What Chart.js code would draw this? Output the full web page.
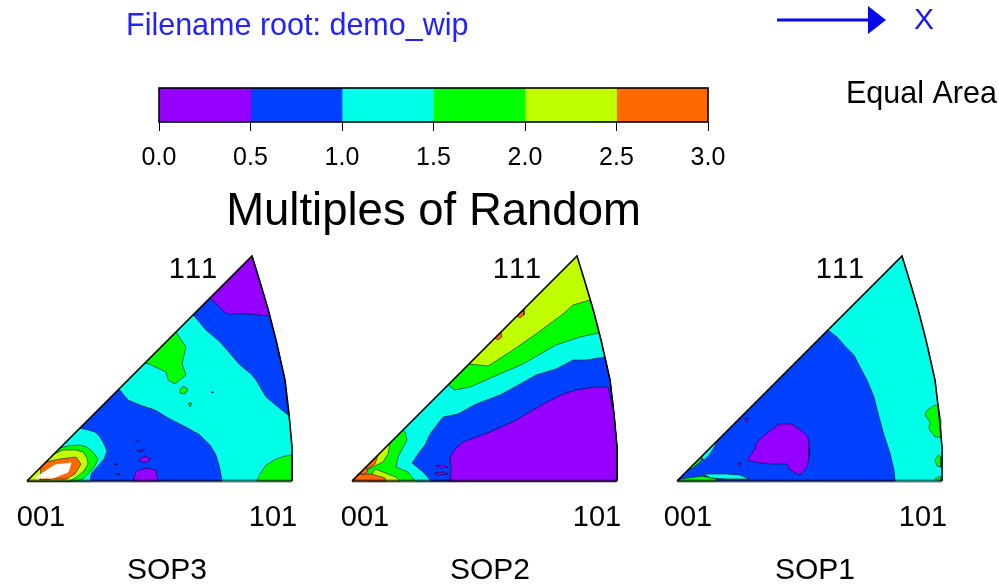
<!DOCTYPE html>
<html>
<head>
<meta charset="utf-8">
<title>Multiples of Random</title>
<script src="https://cdn.jsdelivr.net/npm/chart.js@4"></script>
<style>
html, body { margin: 0; padding: 0; background: #fff; overflow: hidden; }
body { width: 999px; height: 587px; position: relative; font-family: "Liberation Sans", sans-serif; font-kerning: none; }
canvas { position: absolute; filter: blur(0.6px); }
.note { position: absolute; white-space: nowrap; line-height: 1; filter: blur(0.5px); }
</style>
</head>
<body>
<div class="note" style="left:126px;top:9px;font-size:30.5px;color:#2222ff">Filename root: demo_wip</div>
<div class="note" style="left:914px;top:4px;font-size:30px;color:#1515ff">X</div>
<div class="note" style="left:846px;top:77px;font-size:30.5px;color:#000">Equal Area</div>
<svg style="position:absolute;left:770px;top:0" width="125" height="40">
  <line x1="7" y1="20" x2="100" y2="20" stroke="#0808e8" stroke-width="3"/>
  <polygon points="98,6 116,20 98,34" fill="#0808e8"/>
</svg>
<canvas id="scaleBar" width="999" height="240" style="left:0;top:0"></canvas>
<canvas id="sop3" width="310" height="334" style="left:12px;top:253px"></canvas>
<canvas id="sop2" width="310" height="334" style="left:335px;top:253px"></canvas>
<canvas id="sop1" width="310" height="334" style="left:660px;top:253px"></canvas>
<script>
// colour key
var binValues = [0.5, 0.5, 0.5, 0.5, 0.5, 0.5];
var binColors = ['#9600ff', '#0040ff', '#00ffe8', '#00ff00', '#bfff00', '#ff6a00'];
var white = 6;

// standard triangle, [u, v], 001 at 0,0
var hypotTop = [225, 225];
var arcEdge = [[233, 199], [241, 172], [249, 141], [258, 101], [262, 67], [265, 34], [265, 0]];

// SOP3
var sop3Levels = [2, 1, 0, 1, 3, 3, 3, 1, 0, 0, 0, 0, 0, 0, 3, 2, 3, 4, 5, white];
var sop3Contours = [
    [[0, 0], hypotTop].concat(arcEdge),
    [[166, 166], hypotTop, [233, 199], [241, 172], [249, 141], [258, 101], [261, 66], [251, 74], [239, 84], [229, 101], [224, 107], [213, 116], [206, 124], [193, 139], [179, 151], [168, 164]],
    [[183, 183], [200, 167], [221, 167], [243, 165], [233, 199], hypotTop],
    [[92, 92], [101, 81], [113, 76], [128, 71], [143, 62], [159, 54], [173, 46], [183, 36], [189, 26], [193, 12], [195, 0], [0, 0]],
    [[230, 0], [233, 7], [239, 16], [249, 22], [258, 25], [265, 26], [265, 0]],
    [[149, 149], [159, 134], [155, 117], [159, 106], [148, 97], [141, 101], [139, 109], [122, 117], [118, 118]],
    [[153, 91], [156, 95], [161, 92], [158, 87], [153, 88]],
    [[184, 89], [187, 89], [185, 88]],
    [[106, 0], [109, 10], [119, 13], [129, 11], [131, 0]],
    [[111, 21], [118, 25], [124, 22], [118, 18]],
    [[110, 30], [118, 32], [114, 29]],
    [[87, 17], [91, 17], [89, 16]],
    [[89, 7], [93, 7], [91, 6]],
    [[109, 40], [113, 40], [111, 39]],
    [[161, 78], [165, 78], [163, 74]],
    [[53, 53], [61, 51], [68, 49], [73, 44], [77, 37], [80, 30], [77, 22], [71, 15], [64, 7], [63, 0], [0, 0]],
    [[33, 33], [41, 35], [53, 36], [60, 34], [66, 29], [71, 22], [68, 15], [62, 8], [56, 2], [49, 0], [0, 0]],
    [[27, 27], [36, 31], [49, 31], [56, 29], [60, 23], [61, 17], [57, 10], [51, 5], [43, 0], [0, 0]],
    [[14, 14], [19, 19], [33, 22], [49, 24], [54, 17], [48, 7], [39, 2], [26, 2], [13, 1]],
    [[8, 3], [28, 16], [44, 18], [41, 9], [26, 3]]
];

// SOP2
var sop2Levels = [4, 3, 2, 1, 0, 0, 0, 4, 5, 4, 5, 5, 5, 5];
var sop2Contours = [
    [[0, 0], hypotTop].concat(arcEdge),
    [[117, 117], [136, 115], [158, 129], [184, 147], [211, 167], [221, 176], [238, 181], [241, 172], [249, 141], [258, 101], [262, 67], [265, 34], [265, 0], [0, 0]],
    [[96, 96], [103, 91], [118, 94], [134, 101], [171, 117], [204, 136], [228, 144], [247, 148], [249, 141], [258, 101], [262, 67], [265, 34], [265, 0], [63, 0], [56, 9], [44, 14], [46, 24], [55, 41], [53, 49], [51, 51]],
    [[253, 124], [234, 121], [221, 121], [204, 112], [184, 106], [168, 97], [148, 86], [124, 77], [106, 67], [91, 64], [78, 47], [73, 36], [66, 27], [60, 18], [71, 9], [79, 0], [265, 0], [265, 34], [262, 67], [258, 101]],
    [[256, 94], [243, 94], [224, 91], [211, 87], [191, 77], [164, 61], [138, 49], [111, 39], [103, 32], [98, 24], [99, 14], [98, 0], [265, 0], [265, 34], [262, 67]],
    [[84, 15], [92, 16], [96, 14], [88, 13]],
    [[82, 8], [92, 9], [96, 7], [86, 6]],
    [[38, 38], [36, 27], [31, 19], [21, 14], [13, 11], [11, 11]],
    [[26, 26], [23, 17], [16, 12], [11, 11]],
    [[23, 12], [44, 4], [48, 0], [16, 0]],
    [[6, 7], [19, 7], [33, 3], [34, 0], [1, 0]],
    [[8, 8], [14, 14], [16, 10], [12, 6]],
    [[165, 165], [172, 172], [172, 166], [168, 163]],
    [[143, 143], [149, 149], [150, 144], [146, 141]]
];

// SOP1
var sop1Levels = [2, 1, 3, 3, 3, 0, 0, 0, 2, 3, 2, 3];
var sop1Contours = [
    [[0, 0], hypotTop].concat(arcEdge),
    [[151, 151], [160, 144], [168, 135], [177, 126], [183, 114], [190, 101], [197, 84], [202, 64], [207, 46], [213, 28], [217, 11], [218, 0], [0, 0]],
    [[258, 76], [250, 71], [248, 66], [253, 59], [252, 52], [258, 44], [264, 44], [264, 60], [261, 76]],
    [[258, 21], [261, 26], [264, 24], [264, 14], [260, 15]],
    [[258, 2], [263, 5], [264, 0]],
    [[70, 21], [78, 32], [80, 39], [90, 48], [102, 57], [115, 57], [125, 50], [131, 44], [132, 34], [132, 24], [130, 14], [123, 6], [117, 9], [112, 12], [110, 17], [97, 17], [83, 18]],
    [[60, 18], [65, 18], [62, 15]],
    [[67, 62], [71, 63], [70, 59]],
    [[27, 7], [50, 7], [63, 6], [72, 2], [50, 2], [33, 3]],
    [[3, 2], [25, 5], [40, 2], [40, 0], [2, 0]],
    [[40, 40], [38, 35], [33, 27], [27, 21], [24, 24]],
    [[26, 26], [24, 20], [16, 13], [11, 11]]
];

var poleNames = ['001', '101'];

function toPoints(list) {
    return list.map(function (p) { return { x: p[0], y: p[1] }; });
}

function contourDatasets(contours, levels) {
    var sets = contours.map(function (c, i) {
        var col = levels[i] === white ? '#ffffff' : binColors[levels[i]];
        return {
            data: toPoints(c.concat([c[0]])),
            showLine: true,
            fill: 'shape',
            backgroundColor: col,
            borderColor: i === 0 || levels[i] === white ? col : 'rgba(0,0,30,0.55)',
            borderWidth: 1,
            pointRadius: 0,
            tension: 0,
            order: contours.length - i + 2
        };
    });
    // baseline strip and wedge outline go on top
    sets.push({
        data: toPoints([[0, 0], [265, 0]]),
        showLine: true, borderColor: 'rgba(0,0,0,0.5)', borderWidth: 3, pointRadius: 0, order: 2
    });
    sets.push({
        data: toPoints([[265, 0]].concat(arcEdge.slice().reverse(), [hypotTop, [0, 0]])),
        showLine: true, borderColor: '#000', borderWidth: 1.6, pointRadius: 0, order: 1
    });
    return sets;
}

var noKerning = {
    id: 'noKerning',
    beforeDraw: function (chart) { chart.ctx.fontKerning = 'none'; }
};

var apexLabel = {
    id: 'apexLabel',
    afterDatasetsDraw: function (chart, args, opts) {
        var ctx = chart.ctx;
        ctx.save();
        ctx.font = '29px "Liberation Sans"';
        ctx.fillStyle = '#000';
        ctx.textAlign = 'center';
        ctx.textBaseline = 'middle';
        ctx.fillText('111', chart.scales.x.getPixelForValue(opts.u), chart.scales.y.getPixelForValue(211));
        ctx.restore();
    }
};

function poleFigure(id, title, contours, levels, xMin, poleTicks, apexU) {
    return new Chart(document.getElementById(id), {
        type: 'scatter',
        data: { datasets: contourDatasets(contours, levels) },
        plugins: [noKerning, apexLabel],
        options: {
            responsive: false,
            animation: false,
            layout: { padding: 0 },
            plugins: { legend: { display: false }, tooltip: { enabled: false }, apexLabel: { u: apexU } },
            scales: {
                x: {
                    type: 'linear',
                    min: xMin,
                    max: xMin + 310,
                    grid: { display: false },
                    border: { display: false },
                    afterBuildTicks: function (s) {
                        s.ticks = poleTicks.map(function (v) { return { value: v }; });
                    },
                    afterFit: function (s) {
                        s.height = 103;
                        s.paddingLeft = 0;
                        s.paddingRight = 0;
                    },
                    ticks: {
                        autoSkip: false,
                        maxRotation: 0,
                        padding: 9,
                        color: '#000',
                        font: { family: 'Liberation Sans', size: 29 },
                        callback: function (v, i) { return poleNames[i]; }
                    },
                    title: {
                        display: true,
                        text: title,
                        color: '#000',
                        padding: { top: 24, bottom: -2 },
                        font: { family: 'Liberation Sans', size: 30 }
                    }
                },
                y: { type: 'linear', display: false, min: -3, max: 228 }
            }
        }
    });
}

var barFrame = {
    id: 'barFrame',
    afterDatasetsDraw: function (chart) {
        var a = chart.chartArea;
        chart.ctx.save();
        chart.ctx.strokeStyle = '#000';
        chart.ctx.lineWidth = 1.6;
        chart.ctx.strokeRect(a.left, a.top, a.right - a.left, a.bottom - a.top);
        chart.ctx.restore();
    }
};

new Chart(document.getElementById('scaleBar'), {
    type: 'bar',
    data: {
        labels: ['mrd'],
        datasets: binValues.map(function (v, i) {
            return { data: [v], backgroundColor: binColors[i], barPercentage: 1, categoryPercentage: 1, borderWidth: 0 };
        })
    },
    plugins: [noKerning, barFrame],
    options: {
        indexAxis: 'y',
        responsive: false,
        animation: false,
        layout: { padding: { left: 159, right: 291, top: 88, bottom: 0 } },
        plugins: { legend: { display: false }, tooltip: { enabled: false } },
        scales: {
            x: {
                type: 'linear',
                stacked: true,
                min: 0,
                max: 3,
                afterFit: function (s) { s.height = 118; },
                grid: { drawOnChartArea: false, color: '#000', tickLength: 9 },
                border: { display: false },
                ticks: {
                    stepSize: 0.5,
                    padding: 12,
                    maxRotation: 0,
                    autoSkip: false,
                    color: '#000',
                    font: { family: 'Liberation Sans', size: 25 },
                    callback: function (v) { return v.toFixed(1); }
                },
                title: {
                    display: true,
                    text: 'Multiples of Random',
                    color: '#000',
                    padding: { top: 9, bottom: 0 },
                    font: { family: 'Liberation Sans', size: 45.5 }
                }
            },
            y: { stacked: true, display: false }
        }
    }
});

poleFigure('sop3', 'SOP3', sop3Contours, sop3Levels, -15, [14, 246], 166);
poleFigure('sop2', 'SOP2', sop2Contours, sop2Levels, -17, [13, 245], 165);
poleFigure('sop1', 'SOP1', sop1Contours, sop1Levels, -17, [11, 246], 163);
</script>
</body>
</html>
